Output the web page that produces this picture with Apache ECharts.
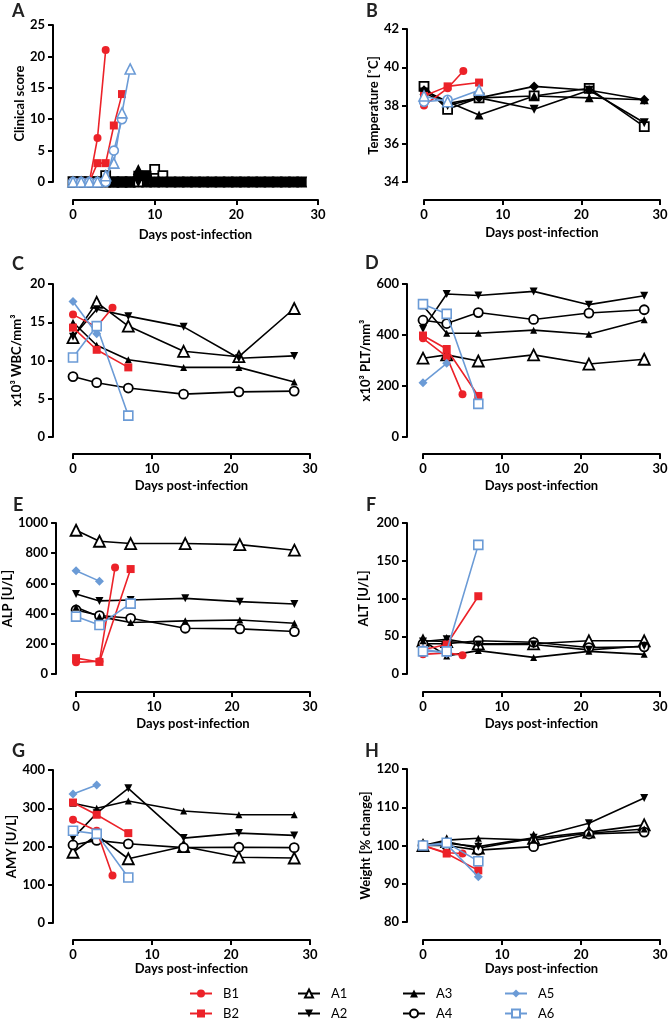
<!DOCTYPE html>
<html>
<head>
<meta charset="utf-8">
<script src="https://cdn.jsdelivr.net/npm/echarts@6/dist/echarts.min.js"></script>
<style>html,body{margin:0;padding:0;background:#fff}#c{width:671px;height:1020px}</style>
</head>
<body>
<div id="c"></div>
<script>
// ---------- DATA ----------
const seriesNames = ['B1','B2','A1','A2','A3','A4','A5','A6'];
const xTicks = [0,10,20,30];

// common day grids
const daysA = [0,3,7,14,21,28];   // A1–A4
const daysB1 = [0,3,5];
const daysB2 = [0,3,7];
const daysA5 = [0,3];
const daysA5w = [0,3,7];
const daysA6 = [0,3,7];

// Panel A – clinical score (daily)
const clinDays = [0,1,2,3,4,5,6,7,8,9,10,11,12,13,14,15,16,17,18,19,20,21,22,23,24,25,26,27,28];
const clinA1Days = [0,1,2,3,4,5,6,7,8,9,10,11];
const clinA1 = [0,0,0,0,1,0,0,0,0,1,2,1];
const clinA2 = [0,0,0,0,0,0,0,0,0,0,0,0,0,0,0,0,0,0,0,0,0,0,0,0,0,0,0,0,0];
const clinA3 = [0,0,0,0,0,0,0,0,2,0,0,0,0,0,0,0,0,0,0,0,0,0,0,0,0,0,0,0,0];
const clinA4 = [0,0,0,0,0,0,0,0,1,1,0,0,0,0,0,0,0,0,0,0,0,0,0,0,0,0,0,0,0];
const clinB1Days = [0,1,2,3,4];
const clinB1 = [0,0,0,7,21];
const clinB2Days = [0,1,2,3,4,5,6];
const clinB2 = [0,0,0,3,3,9,14];
const clinA5Days = [0,1,2,3,4,5,6];
const clinA5 = [0,0,0,0,0,5,10];
const clinA6Days = [0,1,2,3,4,5,6,7];
const clinA6 = [0,0,0,0,1,3,11,18];

// Panel B – temperature
const tempB1 = [38.0, 38.9, 39.8];
const tempB2 = [38.5, 39.0, 39.2];
const tempA1 = [39.0, 37.8, 38.4, 38.5, 38.9, 36.9];
const tempA2 = [38.7, 38.0, 38.4, 37.8, 38.8, 37.1];
const tempA3 = [38.8, 38.2, 37.5, 38.5, 38.4, 38.3];
const tempA4 = [38.8, 38.1, 38.4, 39.0, 38.8, 38.3];
const tempA5 = [38.2, 38.3];
const tempA6 = [38.5, 38.2, 38.8];

// Panel C – WBC
const wbcB1 = [16.0, 14.4, 16.9];
const wbcB2 = [14.3, 11.4, 9.1];
const wbcA1 = [13.0, 17.6, 14.5, 11.2, 10.5, 16.8];
const wbcA2 = [13.1, 16.7, 15.8, 14.4, 10.3, 10.6];
const wbcA3 = [15.0, 12.0, 10.1, 9.1, 9.1, 7.2];
const wbcA4 = [7.9, 7.1, 6.4, 5.6, 5.9, 6.0];
const wbcA5 = [17.7, 13.5];
const wbcA6 = [10.4, 14.5, 2.8];

// Panel D – PLT
const pltB1 = [387, 315, 168];
const pltB2 = [398, 345, 161];
const pltA1 = [309, 322, 298, 322, 286, 305];
const pltA2 = [424, 561, 555, 571, 519, 554];
const pltA3 = [515, 407, 407, 419, 403, 460];
const pltA4 = [458, 445, 488, 461, 486, 499];
const pltA5 = [213, 289];
const pltA6 = [521, 483, 130];

// Panel E – ALP
const alpB1 = [77, 84, 705];
const alpB2 = [105, 80, 695];
const alpA1 = [952, 879, 864, 864, 857, 820];
const alpA2 = [530, 484, 490, 501, 479, 464];
const alpA3 = [442, 380, 341, 352, 358, 336];
const alpA4 = [424, 387, 369, 303, 299, 281];
const alpA5 = [684, 615];
const alpA6 = [380, 325, 466];

// Panel F – ALT
const altB1 = [26, 28, 25];
const altB2 = [32, 39, 103];
const altA1 = [44, 43, 40, 40, 44, 44];
const altA2 = [43, 46, 39, 39, 32, 37];
const altA3 = [44, 24, 31, 22, 30, 26];
const altA4 = [40, 40, 44, 42, 35, 36];
const altA5 = [33, 27];
const altA6 = [30, 30, 171];

// Panel G – AMY
const amyB1 = [270, 241, 124];
const amyB2 = [315, 283, 235];
const amyA1 = [185, 230, 168, 200, 172, 170];
const amyA2 = [222, 287, 352, 222, 235, 229];
const amyA3 = [313, 300, 319, 293, 283, 283];
const amyA4 = [204, 216, 207, 197, 198, 197];
const amyA5 = [337, 361];
const amyA6 = [241, 233, 119];

// Panel H – weight
const wtB1 = [100, 98.1, 97.9];
const wtB2 = [100, 97.9, 93.5];
const wtA1 = [100, 101.0, 99.3, 101.9, 103.5, 105.4];
const wtA2 = [100, 100.6, 99.7, 102.0, 105.8, 112.4];
const wtA3 = [100, 101.4, 101.9, 101.4, 103.2, 104.3];
const wtA4 = [100, 100.0, 98.8, 99.7, 103.0, 103.5];
const wtA5 = [100, 100.3, 91.8];
const wtA6 = [100, 100.7, 95.9];

// ---------- STYLE / LAYOUT ----------
const FONT = 'Lato';
const RED = '#ec2229';
const BLUE = '#6b9bd6';
const BLACK = '#000';

const panels = [
  {letter:'A', l:73, r:318, t:25, b:182, min:0, max:25, iv:5, yname:'Clinical score', xoff:18, yoff:20, ygap:23, xgap:28, lx:19, ly:12},
  {letter:'B', l:424, r:660, t:29, b:182, min:34, max:42, iv:2, yname:'Temperature [\u02daC]', xoff:18, yoff:17, ygap:27, xgap:26, lx:373, ly:12},
  {letter:'C', l:73, r:310, t:284, b:437, min:0, max:20, iv:5, yname:'x10\u00b3 WBC/mm\u00b3', xoff:17, yoff:20, ygap:30, xgap:25, lx:19, ly:265},
  {letter:'D', l:423, r:660, t:284, b:437, min:0, max:600, iv:200, yname:'x10\u00b3 PLT/mm\u00b3', xoff:17, yoff:16, ygap:30, xgap:25, lx:372, ly:264},
  {letter:'E', l:73, r:310, t:523, b:674, min:0, max:1000, iv:200, yname:'ALP [U/L]', xoff:18, yoff:20, ygap:33, xgap:25, lx:20, ly:506},
  {letter:'F', l:423, r:660, t:523, b:674, min:0, max:200, iv:50, yname:'ALT [U/L]', xoff:18, yoff:16, ygap:37, xgap:25, lx:373, ly:506},
  {letter:'G', l:73, r:310, t:770, b:923, min:0, max:400, iv:100, yname:'AMY [U/L]', xoff:17, yoff:20, ygap:32, xgap:22, lx:19, ly:752},
  {letter:'H', l:423, r:660, t:769, b:922, min:80, max:120, iv:10, yname:'Weight [% change]', xoff:18, yoff:16, ygap:33, xgap:22, lx:372, ly:752}
];

// marker styles (panels C–H follow the legend)
const st = {
  B1:{symbol:'circle', size:8, fill:RED, stroke:RED, bw:0},
  B2:{symbol:'rect', size:8, fill:RED, stroke:RED, bw:0},
  A1:{symbol:'triangle', size:11, fill:'#fff', stroke:BLACK, bw:1.8},
  A2:{symbol:'triangle', size:8, rot:180, fill:BLACK, stroke:BLACK, bw:0},
  A3:{symbol:'triangle', size:7, fill:BLACK, stroke:BLACK, bw:0},
  A4:{symbol:'circle', size:9, fill:'#fff', stroke:BLACK, bw:1.8},
  A5:{symbol:'diamond', size:9, fill:BLUE, stroke:BLUE, bw:0},
  A6:{symbol:'rect', size:9, fill:'#fff', stroke:BLUE, bw:1.6}
};
// panels A and B use other markers in the original figure
const stAB = {
  B1:st.B1, B2:st.B2,
  A1:{symbol:'rect', size:9, fill:'#fff', stroke:BLACK, bw:1.8},
  A2:{symbol:'triangle', size:9, rot:180, fill:BLACK, stroke:BLACK, bw:0},
  A3:{symbol:'triangle', size:9, fill:BLACK, stroke:BLACK, bw:0},
  A4:{symbol:'diamond', size:10, fill:BLACK, stroke:BLACK, bw:0},
  A5:{symbol:'circle', size:9, fill:'#fff', stroke:BLUE, bw:1.6},
  A6:{symbol:'triangle', size:10, fill:'#fff', stroke:BLUE, bw:1.6}
};
const stA = Object.assign({}, stAB, {
  A2:{symbol:'triangle', size:11, rot:180, fill:BLACK, stroke:BLACK, bw:0},
  A3:{symbol:'triangle', size:11, fill:BLACK, stroke:BLACK, bw:0},
  A4:{symbol:'rect', size:10, fill:BLACK, stroke:BLACK, bw:0}
});

const series = [];
function add(pi, name, xs, ys, styles, z) {
  const s = styles[name];
  series.push({
    type:'line', name, xAxisIndex:pi, yAxisIndex:pi,
    data: xs.map((x,i)=>[x, ys[i]]),
    symbol:s.symbol, symbolSize:s.size, symbolRotate:s.rot||0, showSymbol:true,
    itemStyle:{color:s.fill, borderColor:s.stroke, borderWidth:s.bw},
    lineStyle:{color:s.stroke, width:1.6},
    z:z, emphasis:{disabled:true}, animation:false, clip:false
  });
}
function panelSeries(pi, styles, d) {
  add(pi,'A1', d.xA1||daysA, d.A1, styles, 2);
  add(pi,'A4', d.xA4||daysA, d.A4, styles, 2);
  add(pi,'A2', d.xA2||daysA, d.A2, styles, 2);
  add(pi,'A3', d.xA3||daysA, d.A3, styles, 2);
  add(pi,'B1', d.xB1||daysB1, d.B1, styles, 3);
  add(pi,'B2', d.xB2||daysB2, d.B2, styles, 3);
  add(pi,'A5', d.xA5||daysA5, d.A5, styles, 4);
  add(pi,'A6', d.xA6||daysA6, d.A6, styles, 4);
}
panelSeries(2, st, {A1:wbcA1,A2:wbcA2,A3:wbcA3,A4:wbcA4,B1:wbcB1,B2:wbcB2,A5:wbcA5,A6:wbcA6});
panelSeries(3, st, {A1:pltA1,A2:pltA2,A3:pltA3,A4:pltA4,B1:pltB1,B2:pltB2,A5:pltA5,A6:pltA6});
panelSeries(4, st, {A1:alpA1,A2:alpA2,A3:alpA3,A4:alpA4,B1:alpB1,B2:alpB2,A5:alpA5,A6:alpA6});
panelSeries(5, st, {A1:altA1,A2:altA2,A3:altA3,A4:altA4,B1:altB1,B2:altB2,A5:altA5,A6:altA6});
panelSeries(6, st, {A1:amyA1,A2:amyA2,A3:amyA3,A4:amyA4,B1:amyB1,B2:amyB2,A5:amyA5,A6:amyA6});
panelSeries(7, st, {A1:wtA1,A2:wtA2,A3:wtA3,A4:wtA4,B1:wtB1,B2:wtB2,A5:wtA5,A6:wtA6,xA5:daysA5w});
panelSeries(0, stA, {A1:clinA1,A2:clinA2,A3:clinA3,A4:clinA4,B1:clinB1,B2:clinB2,A5:clinA5,A6:clinA6,
  xA1:clinA1Days,xA2:clinDays,xA3:clinDays,xA4:clinDays,xB1:clinB1Days,xB2:clinB2Days,xA5:clinA5Days,xA6:clinA6Days});
panelSeries(1, stAB, {A1:tempA1,A2:tempA2,A3:tempA3,A4:tempA4,B1:tempB1,B2:tempB2,A5:tempA5,A6:tempA6});

const labelStyle = {color:'#000', fontSize:13, fontWeight:'bold', fontFamily:FONT};
const grids = [], xAxes = [], yAxes = [], graphics = [];
panels.forEach((p,i)=>{
  grids.push({left:p.l, top:p.t, width:p.r-p.l, height:p.b-p.t, containLabel:false});
  xAxes.push({gridIndex:i, type:'value', min:xTicks[0], max:xTicks[xTicks.length-1], interval:10, offset:p.xoff,
    axisLine:{show:true, onZero:false, lineStyle:{color:'#000', width:2}},
    axisTick:{show:true, length:5, lineStyle:{color:'#000', width:2}},
    axisLabel:Object.assign({margin:8, formatter:v=>String(v)}, labelStyle), splitLine:{show:false},
    name:'Days post-infection', nameLocation:'middle', nameGap:p.xgap, nameTextStyle:labelStyle});
  yAxes.push({gridIndex:i, type:'value', min:p.min, max:p.max, interval:p.iv, offset:p.yoff,
    axisLine:{show:true, onZero:false, lineStyle:{color:'#000', width:2}},
    axisTick:{show:true, length:5, lineStyle:{color:'#000', width:2}},
    axisLabel:Object.assign({margin:8, formatter:v=>String(v)}, labelStyle), splitLine:{show:false},
    name:p.yname, nameLocation:'middle', nameGap:p.ygap, nameTextStyle:labelStyle});
  graphics.push({type:'text', left:p.lx-7, top:p.ly-10, style:{text:p.letter, font:'bold 18px ' + FONT, fill:'#222'}});
});

const legendBase = {orient:'vertical', itemWidth:22, itemHeight:10, itemGap:7, selectedMode:false, top:987, padding:0,
  textStyle:{fontSize:13, fontFamily:FONT, color:'#000', padding:[0,0,0,6]}};
const legends = [
  Object.assign({data:['B1','B2'], left:189}, legendBase),
  Object.assign({data:['A1','A2'], left:297}, legendBase),
  Object.assign({data:['A3','A4'], left:402}, legendBase),
  Object.assign({data:['A5','A6'], left:504}, legendBase)
];

const chart = echarts.init(document.getElementById('c'), null, {renderer:'canvas'});
chart.setOption({
  animation:false, backgroundColor:'#fff',
  grid:grids, xAxis:xAxes, yAxis:yAxes, series:series, legend:legends, graphic:graphics
});
</script>
</body>
</html>
